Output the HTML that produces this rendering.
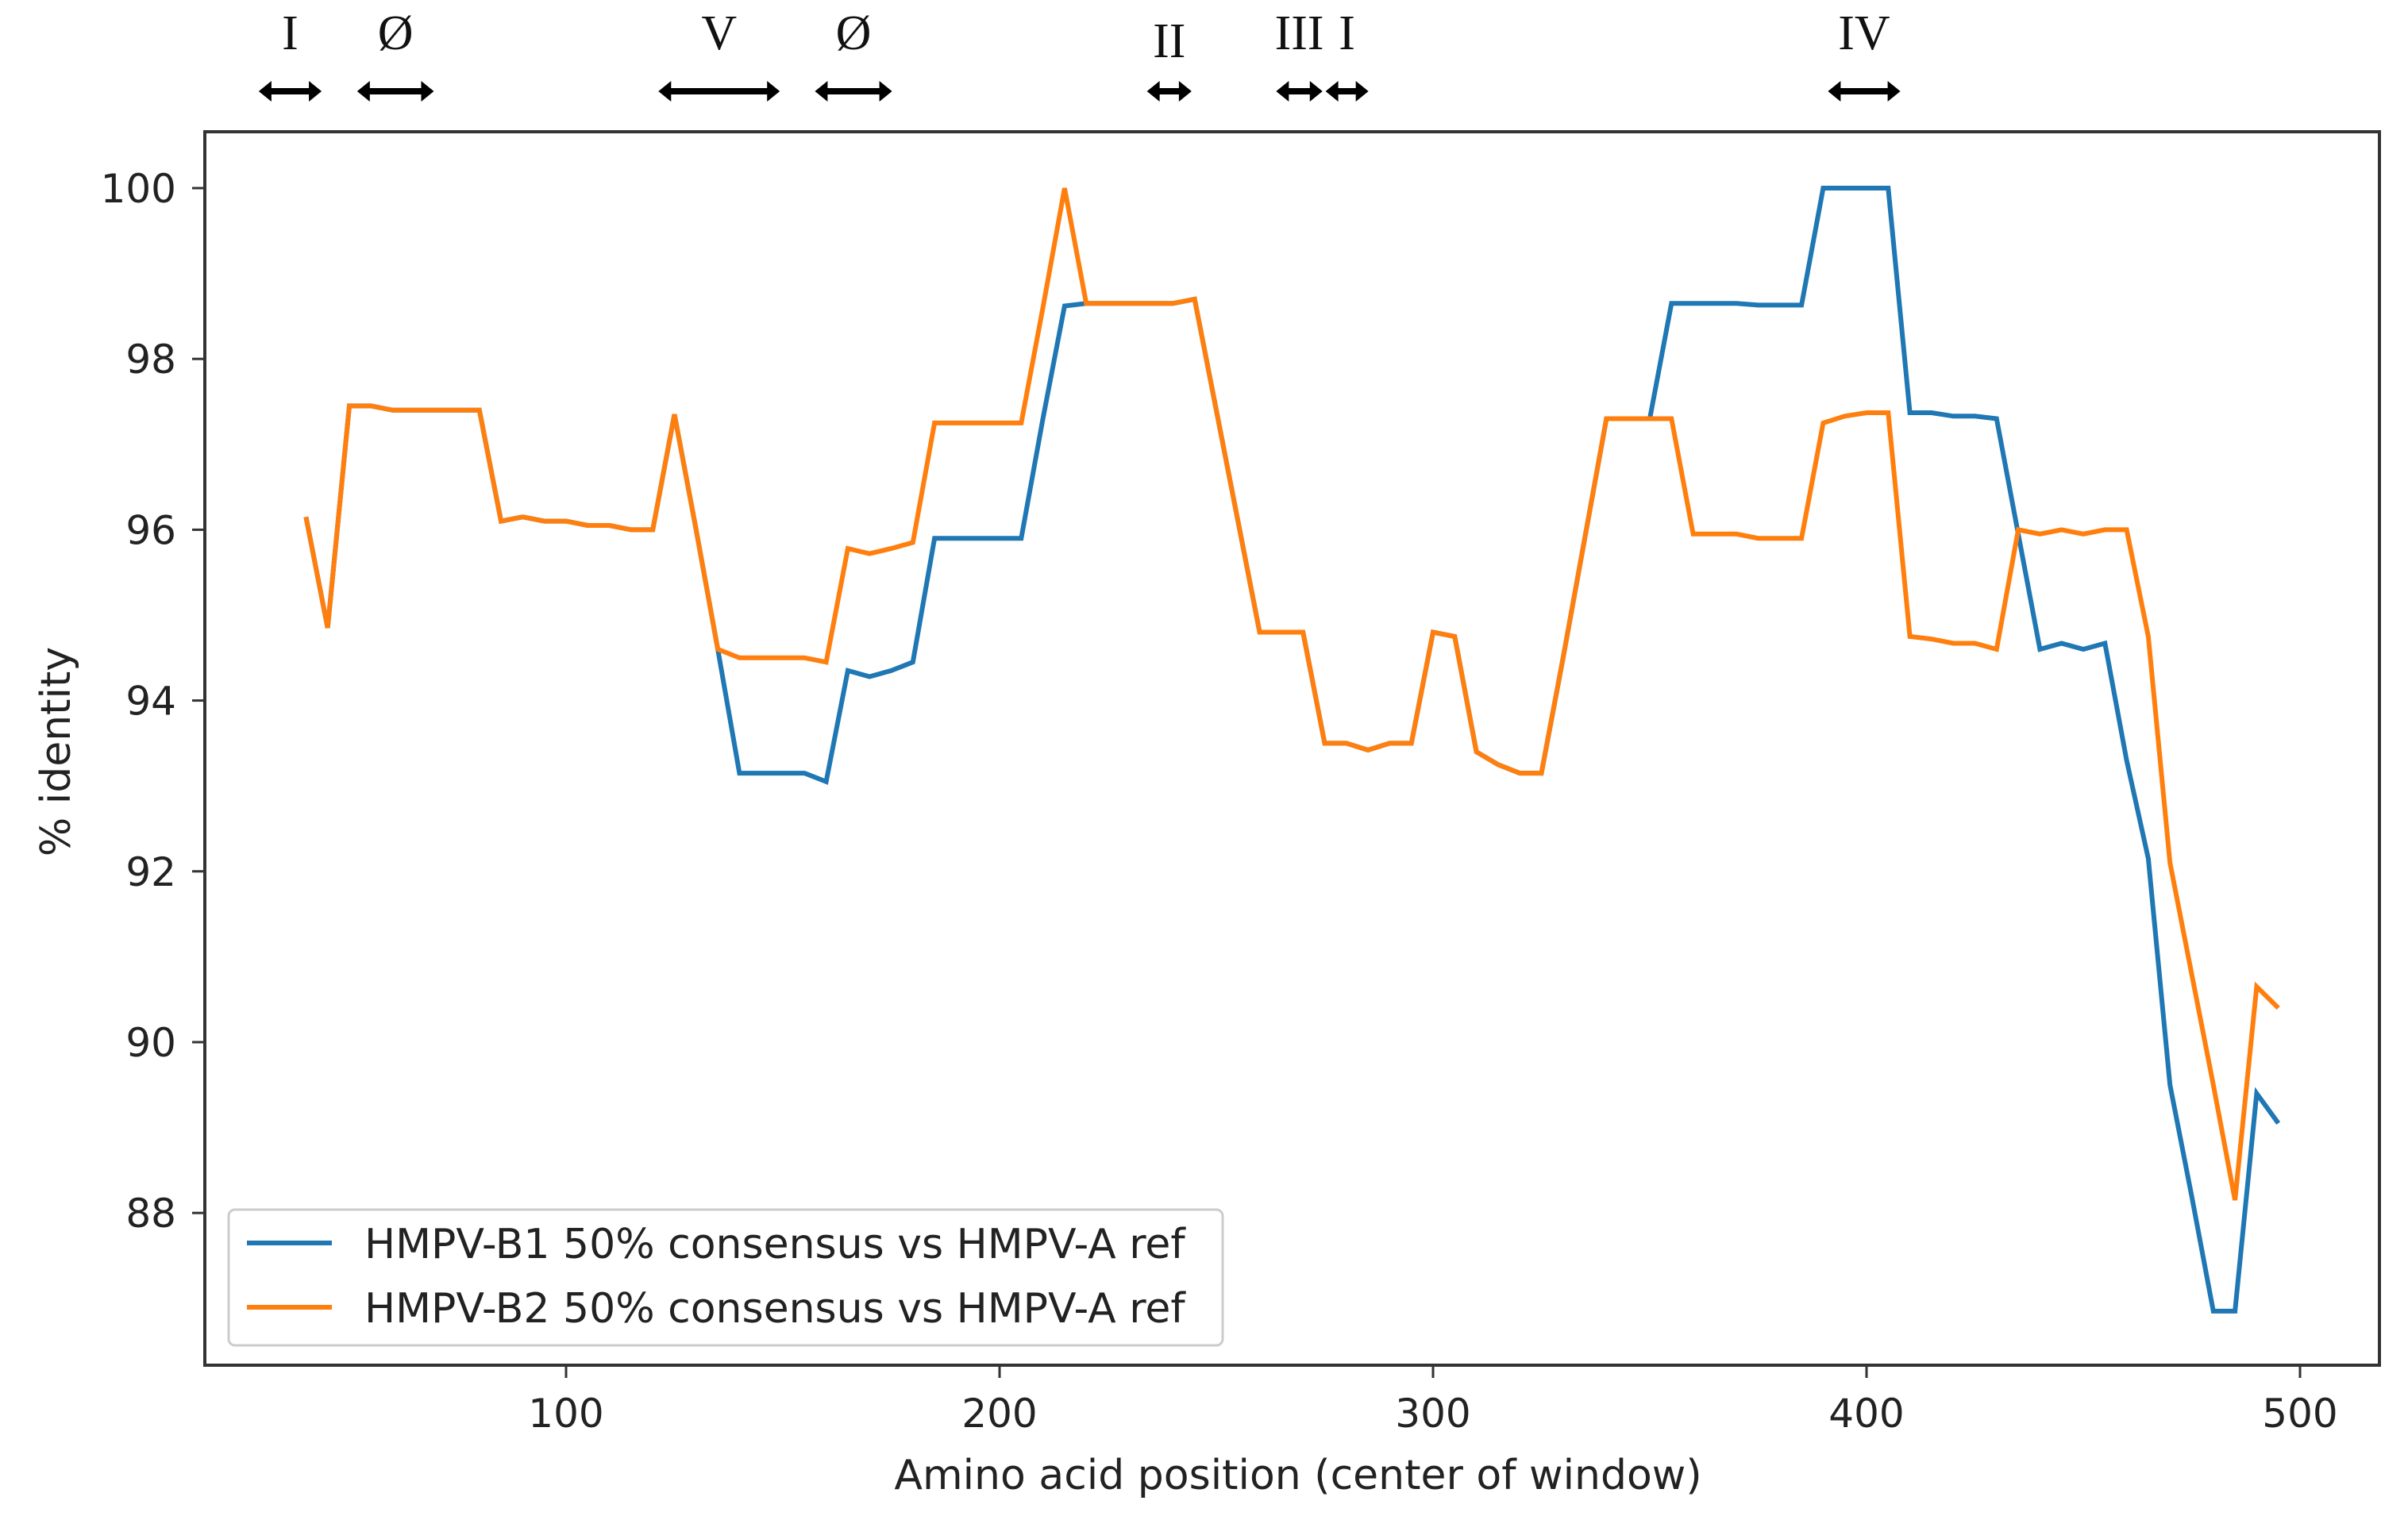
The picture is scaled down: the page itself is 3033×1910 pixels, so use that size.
<!DOCTYPE html>
<html><head><meta charset="utf-8"><style>
html,body{margin:0;padding:0;background:#fff;}
svg{display:block;}
</style></head><body>
<svg id="chart" width="3033" height="1910" viewBox="0 0 3033 1910" xmlns="http://www.w3.org/2000/svg" font-family="DejaVu Sans, Liberation Sans, sans-serif">
<rect x="0" y="0" width="3033" height="1910" fill="#fff"/>
<g id="marks"></g>
<rect x="258" y="166" width="2739" height="1554" fill="none" stroke="#333" stroke-width="4"/>
<g id="axes"></g>
<g id="annot"></g>
<text x="0" y="0" transform="translate(88,947) rotate(-90)" text-anchor="middle" font-size="52" fill="#222">% identity</text>
<text x="1635" y="1876" text-anchor="middle" font-size="52" fill="#222">Amino acid position (center of window)</text>
<g>
<rect x="288" y="1524" width="1252" height="171" rx="8" fill="#fff" stroke="#ccc" stroke-width="3"/>
<line x1="311" y1="1566" x2="418" y2="1566" stroke="#1f77b4" stroke-width="6"/>
<text x="459" y="1585" font-size="52" fill="#222">HMPV-B1 50% consensus vs HMPV-A ref</text>
<line x1="311" y1="1647" x2="418" y2="1647" stroke="#ff7f0e" stroke-width="6"/>
<text x="459" y="1666" font-size="52" fill="#222">HMPV-B2 50% consensus vs HMPV-A ref</text>
</g>
</svg>
<script>
const positions = [];
for (let p = 40; p <= 495; p += 5) positions.push(p);
const b2Values = [96.15,94.85,97.45,97.45,97.4,97.4,97.4,97.4,97.4,96.1,96.15,96.1,96.1,96.05,96.05,96.0,96.0,97.35,96.0,94.6,94.5,94.5,94.5,94.5,94.45,95.78,95.72,95.78,95.85,97.25,97.25,97.25,97.25,97.25,98.6,100,98.65,98.65,98.65,98.65,98.65,98.7,97.4,96.1,94.8,94.8,94.8,93.5,93.5,93.42,93.5,93.5,94.8,94.75,93.4,93.25,93.15,93.15,94.5,95.9,97.3,97.3,97.3,97.3,95.95,95.95,95.95,95.9,95.9,95.9,97.25,97.33,97.37,97.37,94.75,94.72,94.67,94.67,94.6,96.0,95.95,96.0,95.95,96.0,96.0,94.75,92.1,90.8,89.5,88.15,90.65,90.4];
const b1Values = [96.15,94.85,97.45,97.45,97.4,97.4,97.4,97.4,97.4,96.1,96.15,96.1,96.1,96.05,96.05,96.0,96.0,97.35,96.0,94.6,93.15,93.15,93.15,93.15,93.05,94.35,94.28,94.35,94.45,95.9,95.9,95.9,95.9,95.9,97.3,98.62,98.65,98.65,98.65,98.65,98.65,98.7,97.4,96.1,94.8,94.8,94.8,93.5,93.5,93.42,93.5,93.5,94.8,94.75,93.4,93.25,93.15,93.15,94.5,95.9,97.3,97.3,97.3,98.65,98.65,98.65,98.65,98.63,98.63,98.63,100,100,100,100,97.37,97.37,97.33,97.33,97.3,95.95,94.6,94.67,94.6,94.67,93.3,92.15,89.5,88.2,86.85,86.85,89.4,89.05];
const xTicks = [100,200,300,400,500];
const yTicks = [88,90,92,94,96,98,100];
const annotLabels = ["I","Ø","V","Ø","II","III","I","IV"];
const annotStart = [29.1,51.8,121.3,157.4,234,263.8,275.2,391.1];
const annotEnd = [43.6,69.5,149.3,175.2,244.3,274.5,285.1,407.8];

function xAt(v){ return 713 + (v - 100) * 5.46; }
function yAt(v){ return 237 + (100 - v) * 107.6; }
const NS = "http://www.w3.org/2000/svg";
function mk(tag, attrs, parent){ const e = document.createElementNS(NS, tag); for (const k in attrs) e.setAttribute(k, attrs[k]); parent.appendChild(e); return e; }

const marks = document.getElementById('marks');
[[b1Values,'#1f77b4','series-b1'],[b2Values,'#ff7f0e','series-b2']].forEach(([vals,col,name])=>{
  const d = vals.map((v,i)=>(i?'L':'M')+xAt(positions[i]).toFixed(1)+' '+yAt(v).toFixed(1)).join(' ');
  const p = mk('path',{d:d,fill:'none',stroke:col,'stroke-width':6,'stroke-linejoin':'miter'},marks);
  
  
});

const axes = document.getElementById('axes');
xTicks.forEach(t=>{
  const x = xAt(t);
  const l = mk('line',{x1:x,y1:1720,x2:x,y2:1736,stroke:'#333','stroke-width':3},axes);
  
  
  const tx = mk('text',{x:x,y:1798,'text-anchor':'middle','font-size':50,fill:'#222'},axes);
  tx.textContent = t;
  
  
});
yTicks.forEach(t=>{
  const y = yAt(t);
  const l = mk('line',{x1:242,y1:y,x2:258,y2:y,stroke:'#333','stroke-width':3},axes);
  
  
  const tx = mk('text',{x:222,y:y+18,'text-anchor':'end','font-size':50,fill:'#222'},axes);
  tx.textContent = t;
  
  
});

const annot = document.getElementById('annot');
annotLabels.forEach((lab,i)=>{
  const x1 = xAt(annotStart[i]), x2 = xAt(annotEnd[i]);
  const cx = (x1+x2)/2;
  const ly = (lab==="II") ? 72 : 62;
  const t = mk('text',{x:cx,y:ly,'text-anchor':'middle','font-size':62,'font-family':'Liberation Serif, serif',fill:'#111'},annot);
  t.textContent = lab;
  
  
  const y = 115;
  const g = mk('path',{d:`M${x1} ${y} L${x1+16} ${y-13} L${x1+16} ${y-4} L${x2-16} ${y-4} L${x2-16} ${y-13} L${x2} ${y} L${x2-16} ${y+13} L${x2-16} ${y+4} L${x1+16} ${y+4} L${x1+16} ${y+13} Z`,fill:'#000'},annot);
  
  
});
</script>
</body></html>
